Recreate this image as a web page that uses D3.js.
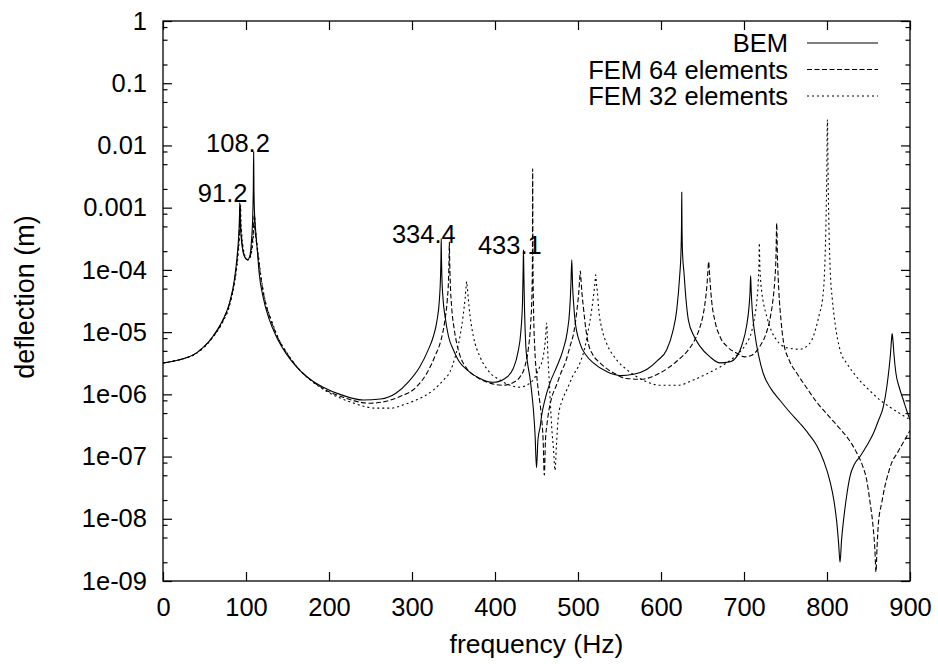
<!DOCTYPE html>
<html>
<head>
<meta charset="utf-8">
<script src="https://cdn.jsdelivr.net/npm/d3@7"></script>
<style>
  body { margin: 0; background: #fff; }
  text { font-family: "Liberation Sans", Arial, Helvetica, sans-serif; fill: #000; }
</style>
</head>
<body>
<svg id="mysvg" width="938" height="664"></svg>
<script>
// [frequency (Hz), deflection (m)]
const bem = [
  [0, 3.2e-6], [20, 3.6e-6], [40, 4.6e-6], [60, 8.5e-6], [72, 1.56e-5], [80, 2.9e-5],
  [86, 6.9e-5], [89, 1.5e-4], [91, 3.2e-4], [92.1, 7e-4], [92.5, 1.2e-3], [92.9, 7e-4], [94, 3.6e-4],
  [96, 2.1e-4], [99, 1.55e-4], [101.8, 1.45e-4], [104.5, 1.65e-4], [106.5, 2.8e-4], [108.2, 8e-4],
  [108.8, 2e-3], [109.2, 7.9e-3], [109.6, 2e-3], [110.3, 8e-4], [111.8, 4e-4], [113.5, 2.2e-4],
  [116, 8.5e-5], [120.5, 3.7e-5], [128, 1.6e-5], [136.5, 8.5e-6], [148, 4.6e-6], [160.6, 2.8e-6],
  [176, 1.8e-6], [193, 1.3e-6], [215, 9.8e-7], [241, 8.1e-7], [262, 8.4e-7], [281, 1.05e-6],
  [296, 1.6e-6], [309.6, 2.8e-6], [319, 5e-6], [325.7, 8.5e-6], [330, 1.5e-5], [333, 3.3e-5],
  [334.4, 8e-5], [334.9, 1.6e-4], [335.2, 3.2e-4], [335.5, 1.6e-4], [336, 8e-5], [337.5, 3.3e-5],
  [339.8, 1.8e-5], [344, 8.5e-6], [349.8, 5.2e-6], [356, 3.5e-6], [365.9, 2.5e-6], [380, 1.85e-6],
  [398, 1.56e-6], [412, 1.8e-6], [422, 2.6e-6], [428, 5e-6], [431, 9.7e-6], [433.2, 3.2e-5],
  [433.9, 1e-4], [434.3, 2.1e-4], [434.7, 1e-4], [435.4, 3e-5], [437.3, 5.5e-6], [439.5, 3e-6],
  [442, 1.9e-6], [444.5, 1e-6], [446.3, 5.6e-7], [448.3, 2.2e-7], [450, 6.6e-8], [451.8, 1.9e-7],
  [454.4, 3e-7], [456, 4.4e-7], [460, 8e-7], [466, 1.5e-6], [475, 2.9e-6], [482, 5.2e-6],
  [487, 1e-5], [490, 2.3e-5], [491.5, 6e-5], [492.5, 1.45e-4], [493.5, 5.5e-5], [494.8, 2.8e-5],
  [496.4, 1.56e-5], [502.4, 6.6e-6], [510, 4.2e-6], [518.5, 3.2e-6], [535, 2.3e-6], [550.6, 2e-6],
  [567, 2.1e-6], [582.8, 2.5e-6], [596, 3.5e-6], [606.9, 5.2e-6], [614, 1e-5], [619, 2.3e-5],
  [622.5, 8e-5], [624, 1.8e-4], [624.7, 5e-4], [625, 1.77e-3], [625.3, 5e-4], [626, 1.8e-4],
  [627.7, 9e-5], [630, 3.5e-5], [633, 1.56e-5], [640, 8.5e-6], [647, 5.9e-6], [659, 4e-6],
  [671, 3.2e-6], [682, 3.3e-6], [691, 4e-6], [698, 6.5e-6], [703, 1.23e-5], [706, 2.5e-5],
  [707.3, 4.5e-5], [708, 8e-5], [708.7, 4.5e-5], [710, 2.2e-5], [713, 9.5e-6], [718, 4e-6],
  [723, 2.2e-6], [733, 1.2e-6], [743, 8.1e-7], [755, 5.2e-7], [767.5, 3.4e-7], [778, 2.3e-7],
  [787.6, 1.5e-7], [796, 8.5e-8], [803.6, 4e-8], [808.5, 1.9e-8], [811.7, 9e-9], [814, 4e-9],
  [815.7, 2e-9], [817.5, 4.5e-9], [820.5, 1.1e-8], [824, 2.5e-8], [827.7, 4.8e-8], [833, 7.5e-8],
  [839.8, 1e-7], [848, 1.5e-7], [855.8, 2.35e-7], [862, 3.8e-7], [867.8, 6.3e-7], [872, 1.3e-6],
  [875, 2.8e-6], [876.5, 4.5e-6], [877.7, 7.5e-6], [878.5, 9.5e-6], [879.4, 7.5e-6], [880.8, 4.2e-6],
  [883, 2.2e-6], [887, 1.3e-6], [892, 8.1e-7], [896, 5.5e-7], [900, 3.9e-7]
];

const fem64 = [
  [0, 3.2e-6], [20, 3.6e-6], [40, 4.6e-6], [60, 8.4e-6], [72, 1.5e-5], [80, 2.8e-5],
  [86, 6.5e-5], [89.5, 1.5e-4], [91.5, 3.2e-4], [92.6, 6.5e-4], [93, 1.1e-3], [93.4, 6.5e-4],
  [94.5, 3.6e-4], [96.5, 2.1e-4], [99.5, 1.55e-4], [102.3, 1.45e-4], [105, 1.65e-4], [107.5, 2.6e-4],
  [109, 4.6e-4], [109.9, 7.6e-4], [110.8, 4.6e-4], [112.5, 2.8e-4], [114.5, 1.7e-4], [117.5, 8e-5],
  [122, 3.6e-5], [130, 1.55e-5], [138, 8.3e-6], [150, 4.4e-6], [162, 2.7e-6], [178, 1.7e-6],
  [195, 1.2e-6], [220, 8.7e-7], [249, 7.2e-7], [270, 7.8e-7], [285.5, 9.2e-7], [305, 1.3e-6],
  [318, 2.2e-6], [328, 4.2e-6], [335, 7.5e-6], [339.5, 1.5e-5], [342.5, 3.3e-5], [344, 7e-5],
  [344.6, 1.4e-4], [345, 2.8e-4], [345.4, 1.4e-4], [346, 7e-5], [347.8, 2.5e-5], [350.5, 1.2e-5],
  [354, 6.5e-6], [357.8, 4.2e-6], [366, 2.6e-6], [378, 1.9e-6], [395, 1.5e-6], [410, 1.4e-6],
  [422, 1.55e-6], [430, 1.9e-6], [436, 2.8e-6], [440, 5.2e-6], [443, 1.4e-5], [444.5, 4e-5],
  [445.1, 1.5e-4], [445.4, 4.2e-3], [445.7, 1.5e-4], [446.3, 3e-5], [448, 5.2e-6], [450, 2.2e-6],
  [452, 1.2e-6], [454, 7.5e-7], [456, 4.4e-7], [458, 1.8e-7], [459.4, 5e-8], [460.8, 1.8e-7],
  [462.5, 3.2e-7], [464, 4.6e-7], [468, 8.5e-7], [474, 1.4e-6], [480, 2.3e-6], [485, 3.3e-6],
  [490.4, 5.9e-6], [495, 1e-5], [498.8, 2.3e-5], [501, 4.5e-5], [502, 7e-5], [502.8, 9.6e-5],
  [503.6, 7e-5], [504.6, 4.5e-5], [506.8, 2.3e-5], [509.5, 1.1e-5], [512.4, 6.6e-6], [518, 4.3e-6],
  [526.5, 3.2e-6], [543, 2.2e-6], [558.7, 1.8e-6], [575, 1.75e-6], [598.8, 2.2e-6], [620, 3.5e-6],
  [632, 5e-6], [639, 6.8e-6], [646, 1.1e-5], [650, 1.7e-5], [653, 2.9e-5], [655.5, 6e-5],
  [656.4, 9e-5], [657.4, 1.35e-4], [658.4, 9e-5], [659.3, 6e-5], [661, 3.2e-5], [665, 1.5e-5],
  [671, 8.5e-6], [680, 5.8e-6], [691, 4.6e-6], [701, 4e-6], [710, 4.3e-6], [719, 5.9e-6],
  [726, 9e-6], [731, 1.56e-5], [734.5, 3e-5], [737, 6.5e-5], [738.5, 1.6e-4], [739.4, 5.6e-4],
  [740.3, 1.6e-4], [742, 4.5e-5], [744.5, 1.6e-5], [747.3, 7.4e-6], [755, 3.4e-6], [763.5, 2.2e-6],
  [775, 1.3e-6], [787.6, 7.5e-7], [800, 4.8e-7], [815.7, 2.8e-7], [826, 1.9e-7], [835.8, 1.15e-7],
  [843, 7e-8], [847.8, 4.2e-8], [851.5, 2e-8], [855.8, 6.8e-9], [857.7, 3.2e-9], [859, 1.4e-9],
  [860.3, 3.5e-9], [861.8, 8e-9], [865.9, 1.8e-8], [869.5, 3.2e-8], [873.9, 5.4e-8], [878, 8e-8],
  [884, 1.1e-7], [892, 1.7e-7], [900, 2.6e-7]
];

const fem32 = [
  [0, 3.2e-6], [20, 3.6e-6], [40, 4.5e-6], [60, 8.2e-6], [72, 1.45e-5], [80, 2.6e-5],
  [86, 6e-5], [90, 1.5e-4], [92, 3.2e-4], [93.1, 6.5e-4], [93.5, 1.1e-3], [93.9, 6.5e-4],
  [95, 3.6e-4], [97, 2.1e-4], [100, 1.55e-4], [102.8, 1.45e-4], [105.5, 1.65e-4], [108, 2.6e-4],
  [109.6, 4.6e-4], [110.5, 7.5e-4], [111.4, 4.6e-4], [113, 2.8e-4], [115, 1.7e-4], [118, 8e-5],
  [122.5, 3.5e-5], [131, 1.5e-5], [139, 8e-6], [151, 4.3e-6], [163, 2.6e-6], [180, 1.6e-6],
  [198, 1.1e-6], [225, 7.6e-7], [257, 6e-7], [275, 6e-7], [290, 6.8e-7], [305, 8.1e-7],
  [325.7, 1.17e-6], [338, 1.7e-6], [345.8, 2.3e-6], [352, 4e-6], [357.8, 8.5e-6], [361.5, 1.8e-5],
  [364, 3.5e-5], [365.3, 5.5e-5], [365.9, 6.5e-5], [366.5, 5.5e-5], [367.8, 3.5e-5], [370, 1.8e-5],
  [374, 8.5e-6], [382, 4e-6], [393, 2.3e-6], [406, 1.7e-6], [418, 1.4e-6], [430, 1.3e-6],
  [440, 1.45e-6], [446, 1.7e-6], [453, 2.6e-6], [458, 4e-6], [460.5, 7e-6], [462.3, 1.4e-5],
  [463.5, 5e-6], [465.5, 1.5e-6], [468.3, 3e-7], [470.5, 1.3e-7], [472.3, 6e-8], [474, 1.5e-7],
  [476.3, 4.4e-7], [481, 8e-7], [486.4, 1.17e-6], [494, 2e-6], [502.4, 3.2e-6], [508, 5.5e-6],
  [512, 1e-5], [516.5, 2.3e-5], [519.3, 4.5e-5], [520.6, 6.5e-5], [521.3, 8.3e-5], [522, 6.5e-5],
  [523.3, 4.5e-5], [525, 2.3e-5], [529, 1.1e-5], [534.5, 6.6e-6], [545, 3.8e-6], [558.7, 2.5e-6],
  [578, 1.7e-6], [598.8, 1.4e-6], [620, 1.4e-6], [639, 1.7e-6], [660, 2.3e-6], [679, 3.2e-6],
  [695, 4.8e-6], [703, 6.6e-6], [709, 1e-5], [713, 1.8e-5], [715.5, 3.2e-5], [717.3, 7e-5],
  [718.1, 1.4e-4], [718.5, 2.7e-4], [718.9, 1.4e-4], [719.8, 7.5e-5], [721.3, 4.5e-5], [724, 2.7e-5],
  [727.3, 1.8e-5], [733, 1.05e-5], [739.4, 7.4e-6], [752, 5.6e-6], [767.5, 5.3e-6], [776, 6e-6],
  [781.6, 7.4e-6], [787, 1.2e-5], [791, 2e-5], [794.5, 3.3e-5], [797, 9e-5], [798.5, 3.9e-4],
  [799.5, 2e-3], [800.5, 2.6e-2], [801.5, 2e-3], [802.5, 3.9e-4], [804, 9e-5], [806.5, 3.3e-5],
  [810, 1.3e-5], [815.7, 5.2e-6], [825, 3e-6], [835.8, 1.9e-6], [850, 1.2e-6], [863.9, 8.1e-7],
  [876, 6.2e-7], [888, 4.9e-7], [900, 3.9e-7]
];

const seriesNames = ["BEM", "FEM 64 elements", "FEM 32 elements"];
const xTicks = [0, 100, 200, 300, 400, 500, 600, 700, 800, 900];
const yTicks = [1e-9, 1e-8, 1e-7, 1e-6, 1e-5, 1e-4, 1e-3, 1e-2, 1e-1, 1];
const yTickLabels = ["1e-09", "1e-08", "1e-07", "1e-06", "1e-05", "1e-04", "0.001", "0.01", "0.1", "1"];
const yMinorSteps = [2, 5, 8];
// peak annotations (text, freq, deflection of baseline)
const peakLabels = [
  ["91.2", 71.9, 1.25e-3],
  ["108.2", 90.3, 7.8e-3],
  ["334.4", 314.2, 2.69e-4],
  ["433.1", 417.9, 1.81e-4]
];

const margin = { top: 21, right: 28, bottom: 83, left: 163 },
  width = 938, height = 664;
const x0 = margin.left, x1 = width - margin.right,
  y0 = margin.top, y1 = height - margin.bottom;

const svg = d3.select("#mysvg");

const x_Scale = d3.scaleLinear().domain([0, 900]).range([x0, x1]);
const y_Scale = d3.scaleLog().domain([1e-9, 1]).range([y1, y0]);

// minor ticks at 2,5,8 of each decade
const yMinor = [];
yTicks.slice(0, -1).forEach(d => yMinorSteps.forEach(m => yMinor.push(d * m)));

const fontSize = 25.5;

// y axis left
svg.append("g")
  .attr("transform", `translate(${x0},0)`)
  .call(d3.axisLeft(y_Scale).tickValues(yTicks).tickSize(-9).tickPadding(16)
    .tickFormat((d, i) => yTickLabels[i]))
  .call(g => g.select(".domain").remove())
  .call(g => g.selectAll("text").attr("font-size", fontSize).attr("font-family", null).attr("fill", "#000"));

svg.append("g")
  .attr("transform", `translate(${x0},0)`)
  .call(d3.axisLeft(y_Scale).tickValues(yMinor).tickSize(-4.5).tickFormat(""))
  .call(g => g.select(".domain").remove());

// mirrored on the right
svg.append("g")
  .attr("transform", `translate(${x1},0)`)
  .call(d3.axisRight(y_Scale).tickValues(yTicks).tickSize(-9).tickFormat(""))
  .call(g => g.select(".domain").remove());

svg.append("g")
  .attr("transform", `translate(${x1},0)`)
  .call(d3.axisRight(y_Scale).tickValues(yMinor).tickSize(-4.5).tickFormat(""))
  .call(g => g.select(".domain").remove());

// x axis bottom + top
svg.append("g")
  .attr("transform", `translate(0,${y1})`)
  .call(d3.axisBottom(x_Scale).tickValues(xTicks).tickSize(-9).tickPadding(17).tickFormat(d3.format("d")))
  .call(g => g.select(".domain").remove())
  .call(g => g.selectAll("text").attr("font-size", fontSize).attr("font-family", null).attr("fill", "#000"));

svg.append("g")
  .attr("transform", `translate(0,${y0})`)
  .call(d3.axisTop(x_Scale).tickValues(xTicks).tickSize(-9).tickFormat(""))
  .call(g => g.select(".domain").remove());

svg.selectAll(".tick line").attr("stroke", "#000").attr("stroke-width", 1.2);

// border
svg.append("rect")
  .attr("x", x0).attr("y", y0)
  .attr("width", x1 - x0).attr("height", y1 - y0)
  .attr("fill", "none").attr("stroke", "#000").attr("stroke-width", 1.3);

// clip for the curves
svg.append("clipPath").attr("id", "plotclip")
  .append("rect").attr("x", x0).attr("y", y0).attr("width", x1 - x0).attr("height", y1 - y0);

const lineGenerator = d3.line()
  .x(d => x_Scale(d[0]))
  .y(d => y_Scale(d[1]))
  .curve(d3.curveMonotoneX);

const series = [
  { name: seriesNames[0], data: bem, dash: null },
  { name: seriesNames[1], data: fem64, dash: "5,2.5" },
  { name: seriesNames[2], data: fem32, dash: "2,3" }
];

svg.append("g").attr("clip-path", "url(#plotclip)")
  .selectAll(".curve")
  .data(series)
  .join("path")
  .attr("class", "curve")
  .attr("d", d => lineGenerator(d.data))
  .attr("fill", "none")
  .attr("stroke", "#000")
  .attr("stroke-width", 1.1)
  .attr("stroke-dasharray", d => d.dash);

// legend
const legend = svg.append("g");
series.forEach((s, i) => {
  const ly = 43 + i * 26.5;
  legend.append("text")
    .attr("x", 788).attr("y", ly).attr("dy", "0.36em")
    .attr("text-anchor", "end").attr("font-size", fontSize)
    .text(s.name);
  legend.append("line")
    .attr("x1", 807).attr("x2", 878).attr("y1", ly).attr("y2", ly)
    .attr("stroke", "#000").attr("stroke-width", 1.1)
    .attr("stroke-dasharray", s.dash);
});

// peak labels
svg.selectAll(".peakLabel")
  .data(peakLabels)
  .join("text")
  .attr("class", "peakLabel")
  .attr("x", d => x_Scale(d[1]))
  .attr("y", d => y_Scale(d[2]))
  .attr("text-anchor", "middle")
  .attr("font-size", fontSize)
  .text(d => d[0]);

// axis titles
svg.append("text")
  .attr("x", (x0 + x1) / 2).attr("y", 653)
  .attr("text-anchor", "middle").attr("font-size", 26.5)
  .text("frequency (Hz)");

svg.append("text")
  .attr("transform", `translate(34,297) rotate(-90)`)
  .attr("text-anchor", "middle").attr("font-size", 27)
  .text("deflection (m)");
</script>
</body>
</html>
